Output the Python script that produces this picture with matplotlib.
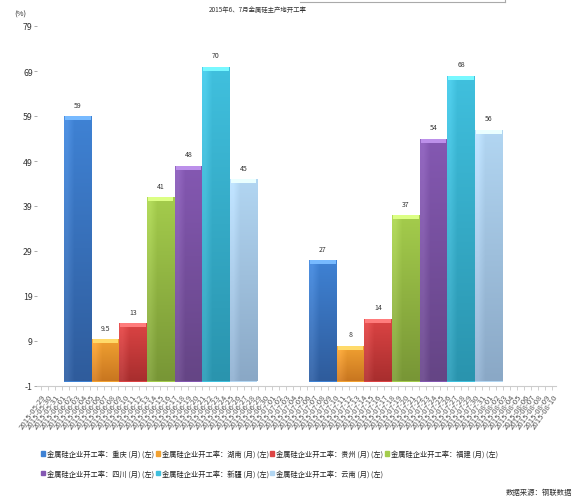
import matplotlib.pyplot as plt
import matplotlib.patches as mpatches
from matplotlib.lines import Line2D
import matplotlib.colors as mcolors
import numpy as np
import pandas as pd

plt.rcParams['font.family'] = ['Noto Sans CJK SC', 'DejaVu Sans']

# data
series_names = ['金属硅企业开工率：重庆 (月) (左)', '金属硅企业开工率：湖南 (月) (左)',
                '金属硅企业开工率：贵州 (月) (左)', '金属硅企业开工率：福建 (月) (左)',
                '金属硅企业开工率：四川 (月) (左)', '金属硅企业开工率：新疆 (月) (左)',
                '金属硅企业开工率：云南 (月) (左)']
june_values = [59, 9.5, 13, 41, 48, 70, 45]
july_values = [27, 8, 14, 37, 54, 68, 56]
value_labels_june = ['59', '9.5', '13', '41', '48', '70', '45']
value_labels_july = ['27', '8', '14', '37', '54', '68', '56']
yticks = [-1, 9, 19, 29, 39, 49, 59, 69, 79]
date_labels = [d.strftime('%Y-%m-%d') for d in pd.date_range('2015-05-29', periods=74, freq='D')]

top_colors = ['#3f82d4', '#f2a232', '#dc4444', '#a4cc4c', '#8458b2', '#40c0de', '#b2d6f2']
bottom_colors = ['#2f5c9c', '#c87620', '#a82e2e', '#789636', '#654585', '#2a94ae', '#8aa8c6']

fig = plt.figure(figsize=(5.82, 5.02), dpi=100)
ax = fig.add_axes([37/582, 1-387/502, 519/582, 360/502])

bar_w = 3.94
group_left = [3.35, 38.3]
groups = [june_values, july_values]
group_labels = [value_labels_june, value_labels_july]

for g, vals in enumerate(groups):
    for i, v in enumerate(vals):
        x0 = group_left[g] + i * bar_w
        bar = ax.bar(x0, v, bar_w, align='edge', color=top_colors[i],
                     edgecolor='none', zorder=2)[0]
        # vertical gradient inside the bar
        c_top = np.array(mcolors.to_rgb(top_colors[i]))
        c_bot = np.array(mcolors.to_rgb(bottom_colors[i]))
        t = np.linspace(0, 1, 64)[:, None, None]
        grad = c_bot * (1 - t) + c_top * t
        grad = np.repeat(grad, 4, axis=1)
        grad[:, 0, :] = np.clip(grad[:, 0, :] + 0.06, 0, 1)
        im = ax.imshow(grad, extent=[x0, x0 + bar_w, 0, v], origin='lower',
                       aspect='auto', zorder=3, interpolation='bilinear')
        im.set_clip_path(bar)
        # lighter cap on top
        cap = np.clip(c_top + 0.22, 0, 1)
        ax.bar(x0 + 0.15, 0.8, bar_w - 0.3, bottom=v - 0.9, align='edge',
               color=cap, edgecolor='none', zorder=4)
        ax.text(x0 + bar_w / 2, v + 1.6, group_labels[g][i], ha='center',
                va='bottom', fontsize=5, color='#333333', zorder=5)

ax.set_xlim(-0.5, 73.5)
ax.set_ylim(-1, 79)
ax.set_yticks(yticks)
ax.set_yticklabels([str(v) for v in yticks], fontsize=6.3, color='#333333')
ax.set_xticks(np.arange(len(date_labels)))
ax.set_xticklabels(date_labels, fontsize=5.6, color='#555555', rotation=55,
                   ha='right', va='top', rotation_mode='anchor')
ax.tick_params(axis='y', length=2, width=0.5, colors='#888888', pad=1, labelcolor='#333333')
ax.tick_params(axis='x', length=3, width=0.5, colors='#bbbbbb', pad=1.5, labelcolor='#555555')
for s in ['top', 'right', 'left']:
    ax.spines[s].set_visible(False)
ax.spines['bottom'].set_color('#cccccc')
ax.spines['bottom'].set_linewidth(0.8)

fig.text(258/582, 1-10/502, '2015年6、7月金属硅主产地开工率', ha='center', va='center',
         fontsize=4.6, color='#333333')
fig.text(14/582, 1-15/502, '(%)', ha='left', va='center', fontsize=5.5, color='#333333')
fig.add_artist(Line2D([300/582, 505/582], [1-3/502, 1-3/502], color='#aaaaaa', lw=0.8))
fig.add_artist(Line2D([505/582, 505/582], [1-3/502, 1.0], color='#aaaaaa', lw=0.8))

handles = [mpatches.Patch(color=top_colors[i], label=series_names[i]) for i in range(7)]
order = [0, 4, 1, 5, 2, 6, 3]
leg = fig.legend([handles[i] for i in order], [series_names[i] for i in order],
                 ncol=4, loc='upper left', bbox_to_anchor=(41/582, 1-451/502),
                 frameon=False, fontsize=5.2, handlelength=0.55, handleheight=0.55,
                 handletextpad=0.3, columnspacing=0.2, labelspacing=1.6,
                 borderaxespad=0, borderpad=0)
for t in leg.get_texts():
    t.set_color('#222222')

fig.text(572/582, 1-493/502, '数据来源：钢联数据', ha='right', va='center',
         fontsize=5.3, color='#333333')

fig.savefig('out.png', dpi=100)
